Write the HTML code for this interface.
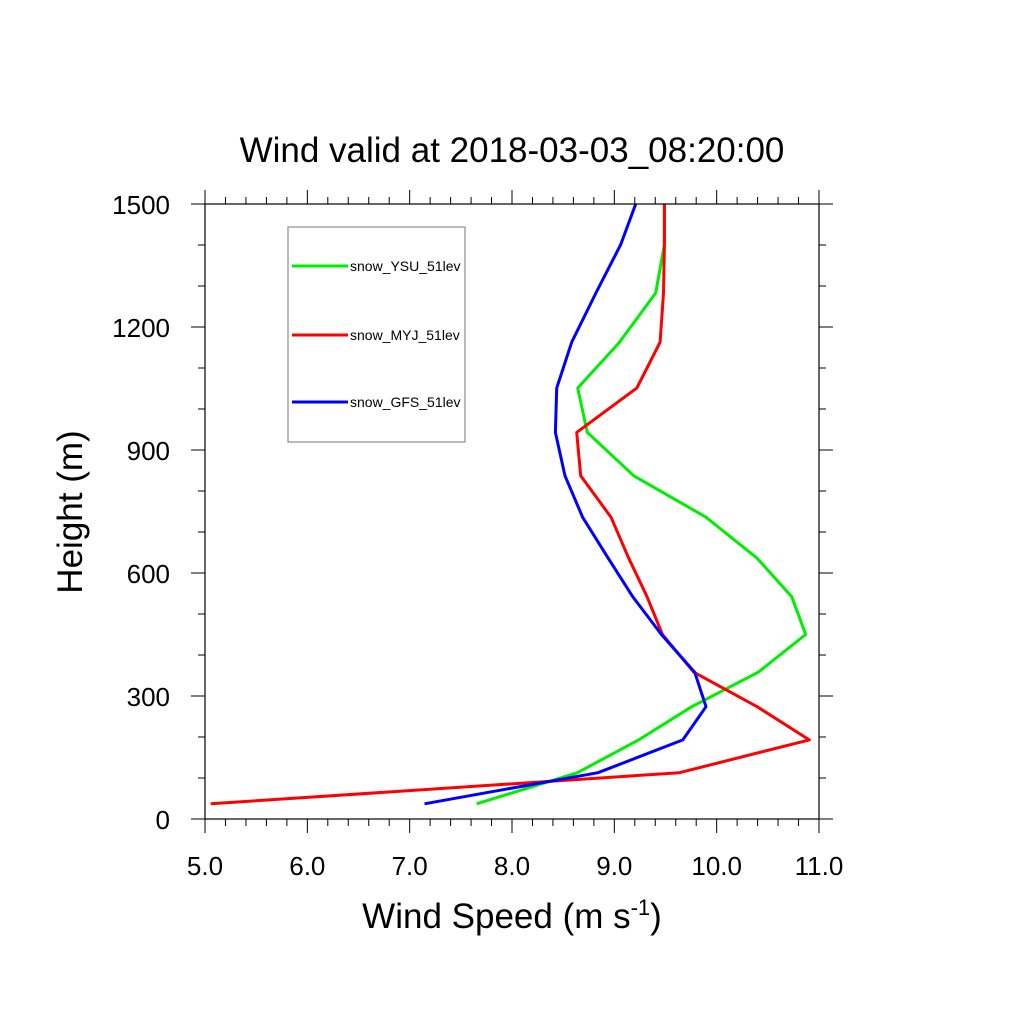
<!DOCTYPE html>
<html><head><meta charset="utf-8"><style>
html,body{margin:0;padding:0;background:#fff;}
svg{display:block;font-family:"Liberation Sans",sans-serif;}
</style></head><body>
<svg id="chart" width="1024" height="1024" viewBox="0 0 1024 1024" xmlns="http://www.w3.org/2000/svg">
<rect width="1024" height="1024" fill="#fff"/>
<text x="512" y="162" font-size="35" text-anchor="middle">Wind valid at 2018-03-03_08:20:00</text>
<g id="ticks"></g>
<g id="series"></g>
<rect x="205" y="204" width="614" height="615" fill="none" stroke="#000" stroke-width="1.2"/>
<g id="labels"></g>
<text transform="translate(82,512) rotate(-90)" font-size="35" text-anchor="middle">Height (m)</text>
<text x="512" y="928" font-size="35" text-anchor="middle">Wind Speed (m s<tspan font-size="22" dy="-13">-1</tspan><tspan dy="13">)</tspan></text>
<g>
<rect x="288" y="227" width="177" height="215" fill="#fff" stroke="#777" stroke-width="1"/>
<g id="legend-items"></g>
</g>
</svg>
<script>
const heights = [37,113,193,274,358,450,542,636,736,837,943,1051,1163,1283,1401,1500];
const seriesNames = ["snow_YSU_51lev","snow_MYJ_51lev","snow_GFS_51lev"];
const seriesColors = ["#00ee00","#ff0000","#0000ff"];
const ysu = [7.655,8.64,9.238,9.757,10.407,10.87,10.734,10.395,9.896,9.19,8.736,8.642,9.05,9.404,9.489,9.489];
const myj = [5.056,9.637,10.905,10.395,9.777,9.47,9.32,9.14,8.967,8.671,8.632,9.22,9.447,9.48,9.489,9.489];
const gfs = [7.145,8.84,9.669,9.896,9.785,9.46,9.18,8.94,8.69,8.518,8.424,8.437,8.583,8.82,9.062,9.209];
const xTickLabels = ["5.0","6.0","7.0","8.0","9.0","10.0","11.0"];
const yTickLabels = ["0","300","600","900","1200","1500"];

const X0=205,X1=819,Y0=819,Y1=204, XMIN=5,XMAX=11,YMIN=0,YMAX=1500;
const sx=v=>X0+(v-XMIN)/(XMAX-XMIN)*(X1-X0);
const sy=v=>Y0-(v-YMIN)/(YMAX-YMIN)*(Y0-Y1);
const NS="http://www.w3.org/2000/svg";
function mk(tag,attrs,parent){const e=document.createElementNS(NS,tag);for(const k in attrs)e.setAttribute(k,attrs[k]);parent.appendChild(e);return e;}
const tg=document.getElementById('ticks'), lg=document.getElementById('labels'), sg=document.getElementById('series');
for(let i=0;i<=30;i++){const v=XMIN+i*0.2;const x=sx(v);const major=i%5===0;const L=major?14:7;
 const t1=mk('line',{x1:x,y1:Y0,x2:x,y2:Y0+L,stroke:'#000','stroke-width':1},tg);
 
 
 const t2=mk('line',{x1:x,y1:Y1,x2:x,y2:Y1-L,stroke:'#000','stroke-width':1},tg);
 
 }
xTickLabels.forEach((s,i)=>{const t=mk('text',{x:sx(parseFloat(s)),y:875,'font-size':26,'text-anchor':'middle'},lg);t.textContent=s;
 
 });
for(let i=0;i<=15;i++){const v=i*100;const y=sy(v);const major=i%3===0;const L=major?14:7;
 const t1=mk('line',{x1:X0,y1:y,x2:X0-L,y2:y,stroke:'#000','stroke-width':1},tg);
 
 
 const t2=mk('line',{x1:X1,y1:y,x2:X1+L,y2:y,stroke:'#000','stroke-width':1},tg);
 
 }
yTickLabels.forEach(s=>{const t=mk('text',{x:170,y:sy(parseFloat(s))+10,'font-size':26,'text-anchor':'end'},lg);t.textContent=s;
 
 });
[ysu,myj,gfs].forEach((vals,k)=>{const pts=vals.map((v,i)=>sx(v).toFixed(1)+','+sy(heights[i]).toFixed(1)).join(' ');
 const p=mk('polyline',{points:pts,fill:'none',stroke:seriesColors[k],'stroke-width':3,'stroke-linejoin':'round'},sg);
 
 });
const li=document.getElementById('legend-items');
const legY=[266,335,402];
seriesNames.forEach((n,k)=>{
 const l=mk('line',{x1:292,y1:legY[k],x2:348,y2:legY[k],stroke:seriesColors[k],'stroke-width':3},li);
 
 
 const t=mk('text',{x:350,y:legY[k]+5,'font-size':14},li);t.textContent=n;
 
 });
</script>
</body></html>
